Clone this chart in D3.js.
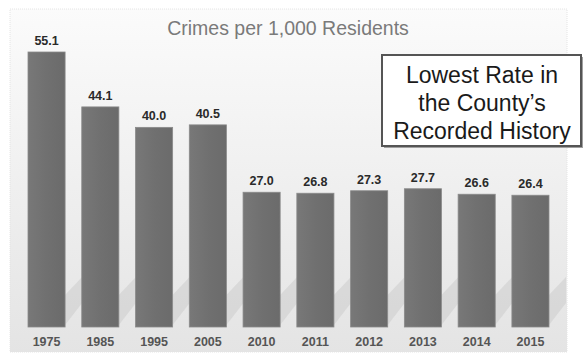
<!DOCTYPE html>
<html>
<head>
<meta charset="utf-8">
<script src="https://cdn.jsdelivr.net/npm/d3@7"></script>
<style>
  body { margin: 0; background: #fff; }
  svg { display: block; font-family: "Liberation Sans", Arial, sans-serif; }
</style>
</head>
<body>
<svg id="chart" width="588" height="354"></svg>
<script>
// data
var years = ["1975", "1985", "1995", "2005", "2010", "2011", "2012", "2013", "2014", "2015"];
var rates = [55.1, 44.1, 40.0, 40.5, 27.0, 26.8, 27.3, 27.7, 26.6, 26.4];
var title = "Crimes per 1,000 Residents";
var noteLines = ["Lowest Rate in", "the County\u2019s", "Recorded History"];

var svg = d3.select("#chart");
var defs = svg.append("defs");

var bg = defs.append("linearGradient").attr("id", "bg")
  .attr("x1", 0).attr("y1", 0).attr("x2", 0).attr("y2", 1);
bg.append("stop").attr("offset", "0%").attr("stop-color", "#fbfbfb");
bg.append("stop").attr("offset", "100%").attr("stop-color", "#e4e4e4");

var bar = defs.append("linearGradient").attr("id", "bar")
  .attr("x1", 0).attr("y1", 0).attr("x2", 1).attr("y2", 0);
bar.append("stop").attr("offset", "0%").attr("stop-color", "#787878");
bar.append("stop").attr("offset", "50%").attr("stop-color", "#707070");
bar.append("stop").attr("offset", "100%").attr("stop-color", "#6b6b6b");

// panel
svg.append("rect")
  .attr("x", 10).attr("y", 9).attr("width", 557).attr("height", 343)
  .attr("fill", "url(#bg)")
  .attr("stroke", "#e4e4e4").attr("stroke-dasharray", "1,1");

// scales
var x = d3.scaleBand().domain(years).range([28, 549]).paddingInner(0.31).paddingOuter(0);
var y = d3.scaleLinear().domain([0, 55.1]).range([327, 52]);

// soft shadows behind the bars
svg.append("g").selectAll("path")
  .data(years)
  .join("path")
    .attr("d", function(d, i) {
      var x0 = x(d) + x.bandwidth(), yb = y(0) - 2;
      return "M" + x0 + "," + yb + "L" + (x0 + 17) + "," + (yb - 22) +
             "L" + (x0 + 17) + "," + (yb - 48) + "L" + x0 + "," + (yb - 30) + "Z";
    })
    .attr("fill", "#cccccc").attr("opacity", 0.55);

// bars
svg.append("g").selectAll("rect")
  .data(rates)
  .join("rect")
    .attr("x", function(d, i) { return x(years[i]); })
    .attr("y", function(d) { return y(d); })
    .attr("width", x.bandwidth())
    .attr("height", function(d) { return y(0) - y(d); })
    .attr("fill", "url(#bar)")
    .attr("stroke", "#8a8a8a").attr("stroke-width", 0.8);

// value labels
svg.append("g").selectAll("text")
  .data(rates)
  .join("text")
    .attr("x", function(d, i) { return x(years[i]) + x.bandwidth() / 2; })
    .attr("y", function(d) { return y(d) - 7; })
    .attr("text-anchor", "middle")
    .attr("font-size", 12.5).attr("font-weight", "bold").attr("fill", "#2a2a2a")
    .text(function(d) { return d.toFixed(1); });

// year axis
var axis = svg.append("g").attr("transform", "translate(0," + y(0) + ")")
  .call(d3.axisBottom(x).tickSize(0).tickPadding(10));
axis.select(".domain").remove();
axis.selectAll("text")
  .attr("font-size", 12.5).attr("font-weight", "bold").attr("fill", "#555")
  .attr("font-family", "Liberation Sans, Arial, sans-serif");

// title
svg.append("text")
  .attr("x", 288).attr("y", 35)
  .attr("text-anchor", "middle")
  .attr("font-size", 19.5).attr("fill", "#7a7a7a")
  .text(title);

// note box
svg.append("rect")
  .attr("x", 384).attr("y", 57).attr("width", 199).attr("height", 91)
  .attr("fill", "#a0a0a0");
svg.append("rect")
  .attr("x", 382).attr("y", 55).attr("width", 199).attr("height", 91)
  .attr("fill", "#fff").attr("stroke", "#555").attr("stroke-width", 2);
svg.append("g").selectAll("text")
  .data(noteLines)
  .join("text")
    .attr("x", 482)
    .attr("y", function(d, i) { return 83 + i * 28; })
    .attr("text-anchor", "middle")
    .attr("font-size", 23).attr("fill", "#1a1a1a")
    .text(function(d) { return d; });
</script>
</body>
</html>
